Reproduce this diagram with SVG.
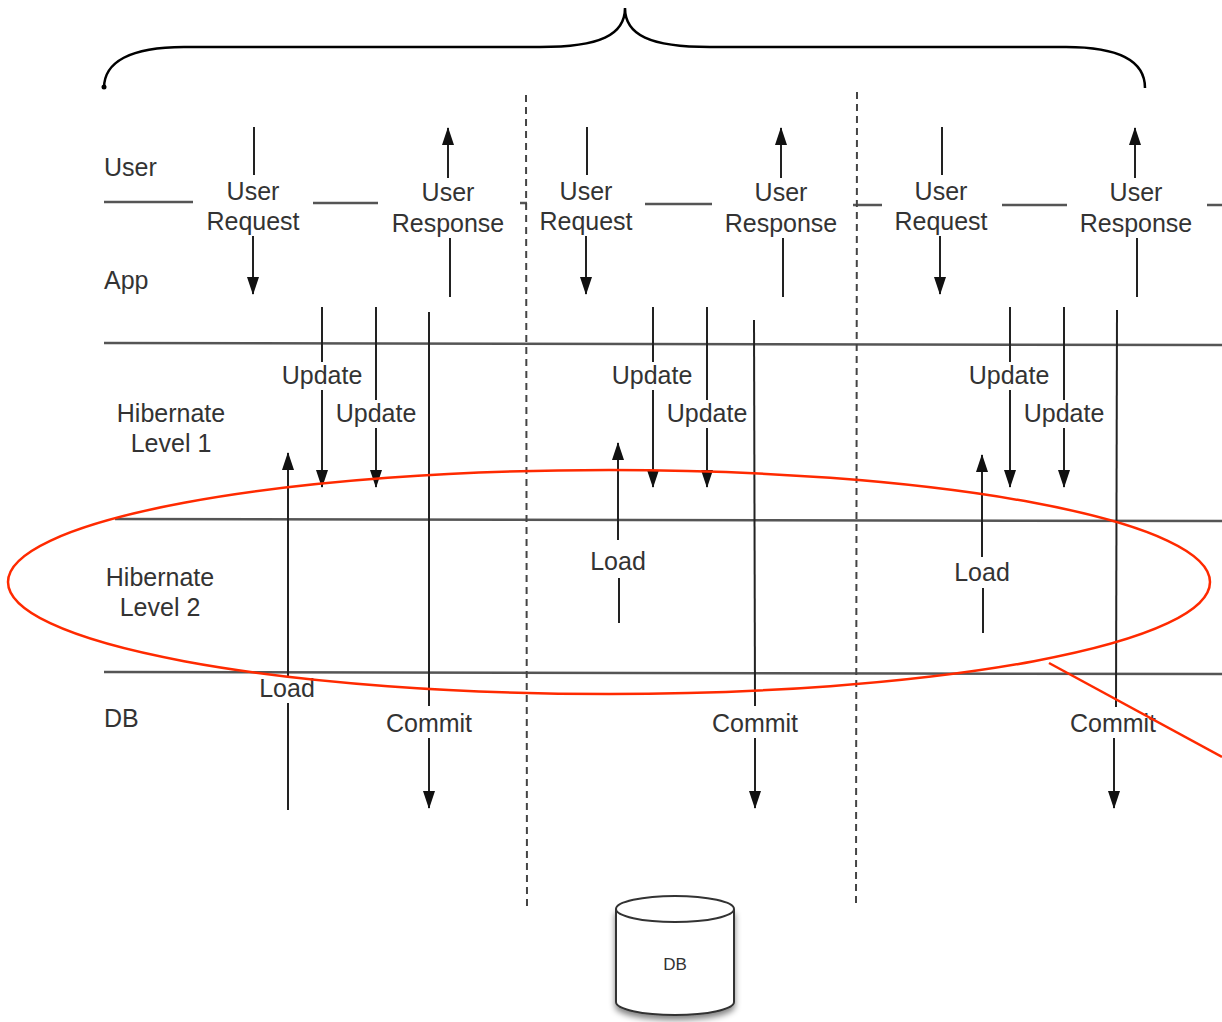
<svg xmlns="http://www.w3.org/2000/svg" width="1222" height="1022" viewBox="0 0 1222 1022">
<defs>
<marker id="ah" viewBox="0 0 18 12" refX="17" refY="6" markerWidth="18" markerHeight="12" markerUnits="userSpaceOnUse" orient="auto">
<path d="M0,0 L18,6 L0,12 z" fill="#111"/>
</marker>
<filter id="sh" x="-20%" y="-20%" width="140%" height="140%">
<feGaussianBlur in="SourceAlpha" stdDeviation="3"/>
<feOffset dx="0" dy="4"/>
<feComponentTransfer><feFuncA type="linear" slope="0.5"/></feComponentTransfer>
<feMerge><feMergeNode/><feMergeNode in="SourceGraphic"/></feMerge>
</filter>
</defs>
<style>
text{font-family:"Liberation Sans",Arial,sans-serif;font-size:25px;fill:#333}
.c{text-anchor:middle}
.lane{stroke:#555;stroke-width:2.5;fill:none}
.arr{stroke:#222;stroke-width:2;fill:none}
.dash{stroke:#444;stroke-width:2;stroke-dasharray:7,5;fill:none}
.red{stroke:#ff2a00;stroke-width:2.5;fill:none}
</style>
<rect width="1222" height="1022" fill="#fff"/>

<g id="brace">
<path d="M104,88 C104,62 130,47 184,47 H540 C600,47 625,35 625,8 C625,35 650,47 710,47 H1066 C1120,47 1145,62 1145,88" stroke="#000" stroke-width="2.5" fill="none"/>
<circle cx="104" cy="87" r="2.5" fill="#000"/>
</g>

<g id="lanes">
<path class="lane" d="M104,202 H193 M313,203 H378 M520,203 H527 M645,204 H712 M853,205 H882 M1002,205 H1067 M1207,205 H1222"/>
<line class="lane" x1="104" y1="343" x2="1222" y2="345"/>
<line class="lane" x1="115" y1="519" x2="1222" y2="521"/>
<line class="lane" x1="104" y1="672" x2="1222" y2="674"/>
<line class="dash" x1="526" y1="95" x2="527" y2="910"/>
<line class="dash" x1="857" y1="92" x2="856" y2="906"/>
</g>

<g id="lane-labels">
<text x="104" y="176">User</text>
<text x="104" y="289">App</text>
<text class="c" x="171" y="422">Hibernate</text>
<text class="c" x="171" y="452">Level 1</text>
<text class="c" x="160" y="586">Hibernate</text>
<text class="c" x="160" y="616">Level 2</text>
<text x="104" y="727">DB</text>
</g>

<g id="labels-col1">
<text class="c" x="253" y="200">User</text>
<text class="c" x="253" y="230">Request</text>
<text class="c" x="448" y="201">User</text>
<text class="c" x="448" y="232">Response</text>
<text class="c" x="322" y="384">Update</text>
<text class="c" x="376" y="422">Update</text>
<text class="c" x="287" y="697">Load</text>
<text class="c" x="429" y="732">Commit</text>
</g>
<g id="labels-col2">
<text class="c" x="586" y="200">User</text>
<text class="c" x="586" y="230">Request</text>
<text class="c" x="781" y="201">User</text>
<text class="c" x="781" y="232">Response</text>
<text class="c" x="652" y="384">Update</text>
<text class="c" x="707" y="422">Update</text>
<text class="c" x="618" y="570">Load</text>
<text class="c" x="755" y="732">Commit</text>
</g>
<g id="labels-col3">
<text class="c" x="941" y="200">User</text>
<text class="c" x="941" y="230">Request</text>
<text class="c" x="1136" y="201">User</text>
<text class="c" x="1136" y="232">Response</text>
<text class="c" x="1009" y="384">Update</text>
<text class="c" x="1064" y="422">Update</text>
<text class="c" x="982" y="581">Load</text>
<text class="c" x="1113" y="732">Commit</text>
</g>

<g id="connectors">
<!-- column 1 -->
<line class="arr" x1="254" y1="127" x2="254" y2="175"/>
<line class="arr" x1="253" y1="236" x2="253" y2="294" marker-end="url(#ah)"/>
<line class="arr" x1="448" y1="178" x2="448" y2="128" marker-end="url(#ah)"/>
<line class="arr" x1="450" y1="238" x2="450" y2="297"/>
<line class="arr" x1="322" y1="307" x2="322" y2="362"/>
<line class="arr" x1="322" y1="390" x2="322" y2="487" marker-end="url(#ah)"/>
<line class="arr" x1="376" y1="307" x2="376" y2="400"/>
<line class="arr" x1="376" y1="428" x2="376" y2="487" marker-end="url(#ah)"/>
<line class="arr" x1="429" y1="312" x2="429" y2="706"/>
<line class="arr" x1="429" y1="738" x2="429" y2="808" marker-end="url(#ah)"/>
<line class="arr" x1="288" y1="810" x2="288" y2="703"/>
<line class="arr" x1="288" y1="676" x2="288" y2="453" marker-end="url(#ah)"/>
<!-- column 2 -->
<line class="arr" x1="587" y1="127" x2="587" y2="175"/>
<line class="arr" x1="586" y1="236" x2="586" y2="294" marker-end="url(#ah)"/>
<line class="arr" x1="781" y1="178" x2="781" y2="128" marker-end="url(#ah)"/>
<line class="arr" x1="783" y1="238" x2="783" y2="297"/>
<line class="arr" x1="653" y1="307" x2="653" y2="362"/>
<line class="arr" x1="653" y1="390" x2="653" y2="487" marker-end="url(#ah)"/>
<line class="arr" x1="707" y1="307" x2="707" y2="400"/>
<line class="arr" x1="707" y1="428" x2="707" y2="487" marker-end="url(#ah)"/>
<line class="arr" x1="754" y1="320" x2="755" y2="706"/>
<line class="arr" x1="755" y1="738" x2="755" y2="808" marker-end="url(#ah)"/>
<line class="arr" x1="619" y1="623" x2="619" y2="578"/>
<line class="arr" x1="618" y1="540" x2="618" y2="443" marker-end="url(#ah)"/>
<!-- column 3 -->
<line class="arr" x1="942" y1="127" x2="942" y2="175"/>
<line class="arr" x1="940" y1="236" x2="940" y2="294" marker-end="url(#ah)"/>
<line class="arr" x1="1135" y1="178" x2="1135" y2="128" marker-end="url(#ah)"/>
<line class="arr" x1="1137" y1="238" x2="1137" y2="297"/>
<line class="arr" x1="1010" y1="307" x2="1010" y2="362"/>
<line class="arr" x1="1010" y1="390" x2="1010" y2="487" marker-end="url(#ah)"/>
<line class="arr" x1="1064" y1="307" x2="1064" y2="400"/>
<line class="arr" x1="1064" y1="428" x2="1064" y2="487" marker-end="url(#ah)"/>
<line class="arr" x1="1117" y1="310" x2="1116" y2="707"/>
<line class="arr" x1="1114" y1="738" x2="1114" y2="808" marker-end="url(#ah)"/>
<line class="arr" x1="983" y1="633" x2="983" y2="588"/>
<line class="arr" x1="982" y1="557" x2="982" y2="455" marker-end="url(#ah)"/>
</g>

<g id="highlight">
<ellipse class="red" cx="609" cy="582" rx="601" ry="112"/>
<line class="red" x1="1049" y1="663" x2="1222" y2="757"/>
</g>

<g id="db-cylinder">
<path d="M616,909 V1002 A59,13 0 0 0 734,1002 V909" fill="#fff" stroke="#333" stroke-width="2" filter="url(#sh)"/>
<ellipse cx="675" cy="909" rx="59" ry="13" fill="#fff" stroke="#333" stroke-width="2"/>
<text class="c" x="675" y="970" style="font-size:17px">DB</text>
</g>
</svg>
